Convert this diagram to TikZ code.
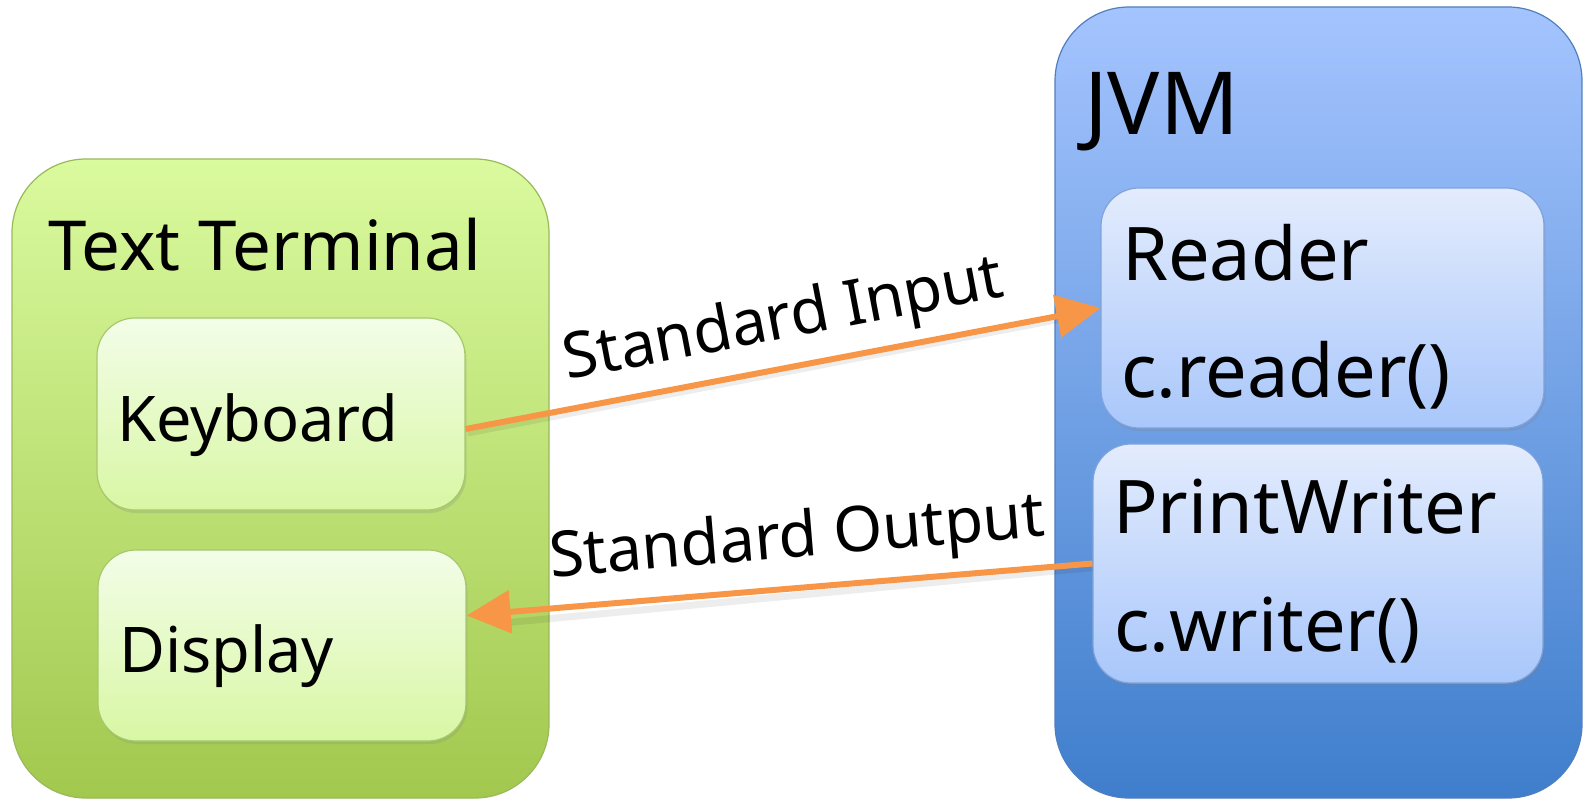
\documentclass[tikz,border=0pt]{standalone}
\usepackage{fontspec}
\setmainfont{Noto Sans}
\usetikzlibrary{arrows.meta,shadows,calc}

\definecolor{grTop}{HTML}{DAFA9E}
\definecolor{grBot}{HTML}{A2C84E}
\definecolor{grLine}{HTML}{98BA58}
\definecolor{giTop}{HTML}{F3FDE8}
\definecolor{giBot}{HTML}{D8F7A4}
\definecolor{giLine}{HTML}{A8C86C}
\definecolor{blTop}{HTML}{A4C4FE}
\definecolor{blBot}{HTML}{3F7ECC}
\definecolor{blLine}{HTML}{4F7FBF}
\definecolor{biTop}{HTML}{E3ECFD}
\definecolor{biBot}{HTML}{A9C7FB}
\definecolor{biLine}{HTML}{7FA3DA}
\definecolor{flow}{HTML}{F79646}

\tikzset{
  outerbox/.style={rectangle, inner sep=0pt, rounded corners=74pt, line width=1.2pt},
  innerbox/.style={rectangle, inner sep=0pt, rounded corners=38pt, line width=1.2pt,
    drop shadow={opacity=0.22, shadow xshift=1.5pt, shadow yshift=-3pt}},
  greenouter/.style={outerbox, draw=grLine, top color=grTop, bottom color=grBot},
  greeninner/.style={innerbox, draw=giLine, top color=giTop, bottom color=giBot},
  blueouter/.style={outerbox, draw=blLine, top color=blTop, bottom color=blBot},
  blueinner/.style={innerbox, draw=biLine, top color=biTop, bottom color=biBot},
  txt/.style={anchor=base west, inner sep=0pt, text=black},
  flowarrow/.style={draw=flow, line width=6pt,
    -{Triangle[length=44pt, width=42pt]}},
  flowshadow/.style={draw=black, opacity=0.07, line width=7pt},
  flowlabel/.style={font=\fontsize{63}{70}\selectfont, inner sep=0pt, text=black}
}

\begin{document}
\begin{tikzpicture}[x=1pt, y=-1pt]
\useasboundingbox (0,0) rectangle (1584,800);

% Text terminal side
\node[greenouter, minimum width=537pt, minimum height=639pt] (term) at (280.5,478.5) {};
\node[greeninner, minimum width=368pt, minimum height=192pt] (kbd) at (281,414) {};
\node[greeninner, minimum width=368pt, minimum height=191pt] (disp) at (282,645.5) {};

% JVM side
\node[blueouter, minimum width=527pt, minimum height=791pt] (jvm) at (1318.5,402.5) {};
\node[blueinner, minimum width=443pt, minimum height=240pt] (rdr) at (1322.5,308) {};
\node[blueinner, minimum width=450pt, minimum height=239pt] (pw) at (1318,563.5) {};

% Texts
\node[txt, font=\fontsize{69}{76}\selectfont] (termtxt) at (48,270) {Text Terminal};
\node[txt, font=\fontsize{63}{70}\selectfont] (kbdtxt) at (117,441) {Keyboard};
\node[txt, font=\fontsize{63}{70}\selectfont] (disptxt) at (119,672) {Display};
\node[txt, font=\fontsize{87}{95}\selectfont] (jvmtxt) at (1084,134) {JVM};
\node[txt, font=\fontsize{74}{82}\selectfont] (rdrtxt) at (1122,280) {Reader};
\node[txt, font=\fontsize{74}{82}\selectfont] (rdrcall) at (1121,397) {c.reader()};
\node[txt, font=\fontsize{74}{82}\selectfont] (pwtxt) at (1113,533) {PrintWriter};
\node[txt, font=\fontsize{74}{82}\selectfont] (pwcall) at (1114,651) {c.writer()};

% Connector end points on the box edges
\coordinate (inStart) at ($(kbd.east)+(0,15)$);
\coordinate (outEnd) at ($(disp.east)+(0,-30)$);

% Soft shadows under the connectors
\draw[flowshadow] ($(inStart)+(2,4)$) -- ($(rdr.west)+(-40,11)$);
\draw[flowshadow] ($(pw.west)+(0,4)$) -- ($(outEnd)+(42,7)$);

% Connectors
\draw[flowarrow] (inStart) -- (rdr.west)
  node[flowlabel, pos=0.515, sloped, above=11pt] (inlbl) {Standard Input};
\draw[flowarrow] (pw.west) -- (outEnd)
  node[flowlabel, pos=0.465, sloped, above=13pt] (outlbl) {Standard Output};
\end{tikzpicture}
\end{document}
